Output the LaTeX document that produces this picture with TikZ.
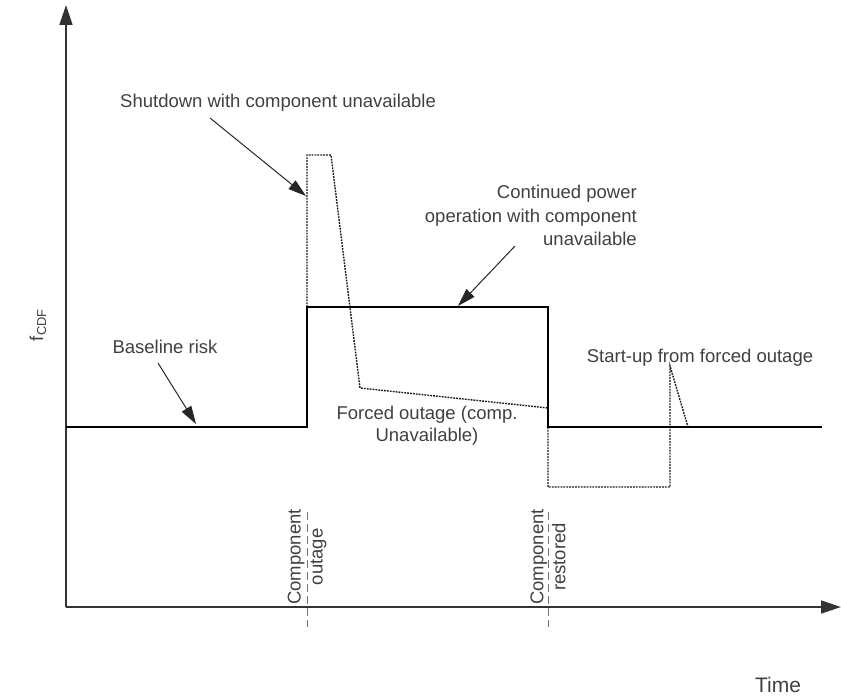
\documentclass[tikz,border=0pt]{standalone}
\usepackage{fontspec}
\setmainfont{Liberation Sans}
\usetikzlibrary{arrows.meta}
\tikzset{
  txt/.style={font=\fontsize{18.5}{22}\selectfont, text=black!75, inner sep=0pt},
  axis/.style={line width=1.4pt, black!80, -{Triangle[length=20pt,width=13pt]}},
  riskline/.style={line width=2.2pt, black},
  dotline/.style={line width=1.4pt, black!90, dash pattern=on 1.8pt off 1.1pt},
  tickline/.style={line width=0.8pt, black!55, dash pattern=on 8pt off 4pt},
  pointer/.style={line width=1pt, black!85, -{Triangle[length=18pt,width=11pt]}}
}

\begin{document}
\begin{tikzpicture}[x=1pt, y=-1pt]
        \useasboundingbox (0,0) rectangle (841,700);

        % Axes
        \draw[axis] (66,607) -- (66,5);
        \draw[axis] (66,607) -- (841,607);
        \node[txt, rotate=90] (fcdf) at (38,325) {f\textsubscript{CDF}};
        \node[txt, font=\fontsize{21}{25}\selectfont] (time) at (778,685) {Time};

        % Event marks
        \draw[tickline] (307,512) -- (307,627);
        \draw[tickline] (548,512) -- (548,627);
        \node[txt, rotate=90, anchor=west, align=center] (outage) at (307,605)
          {Component\\outage};
        \node[txt, rotate=90, anchor=west, align=center] (restored) at (548,605)
          {Component\\restored};

        % Shutdown path (dotted)
        \draw[dotline] (307,307) -- (307,155) -- (331,155) -- (360,388) -- (548,408);
        \draw[dotline] (548,427) -- (548,487) -- (670,487) -- (670,366) -- (688,427);

        % Continued operation (solid)
        \draw[riskline] (66,427) -- (307,427) -- (307,307) -- (548,307)
          -- (548,427) -- (822,427);

        % Labels
        \node[txt, anchor=west] (shutdown) at (120,103) {Shutdown with component unavailable};
        \node[txt, font=\fontsize{18.5}{23.5}\selectfont, align=right, anchor=north east]
          (contop) at (637,185) {Continued power\\operation with component\\unavailable};
        \node[txt] (baseline) at (165,347) {Baseline risk};
        \node[txt, align=center] (forced) at (427,426) {Forced outage (comp.\\Unavailable)};
        \node[txt] (startup) at (700,358) {Start-up from forced outage};

        % Pointers
        \coordinate (shutfrom) at (210,118);
        \coordinate (shutto) at (306,196);
        \coordinate (confrom) at (515,246);
        \coordinate (conto) at (458,306);
        \coordinate (basefrom) at (158,363);
        \coordinate (baseto) at (196,424);
        \draw[pointer] (shutfrom) -- (shutto);
        \draw[pointer] (confrom) -- (conto);
        \draw[pointer] (basefrom) -- (baseto);
\end{tikzpicture}
\end{document}
